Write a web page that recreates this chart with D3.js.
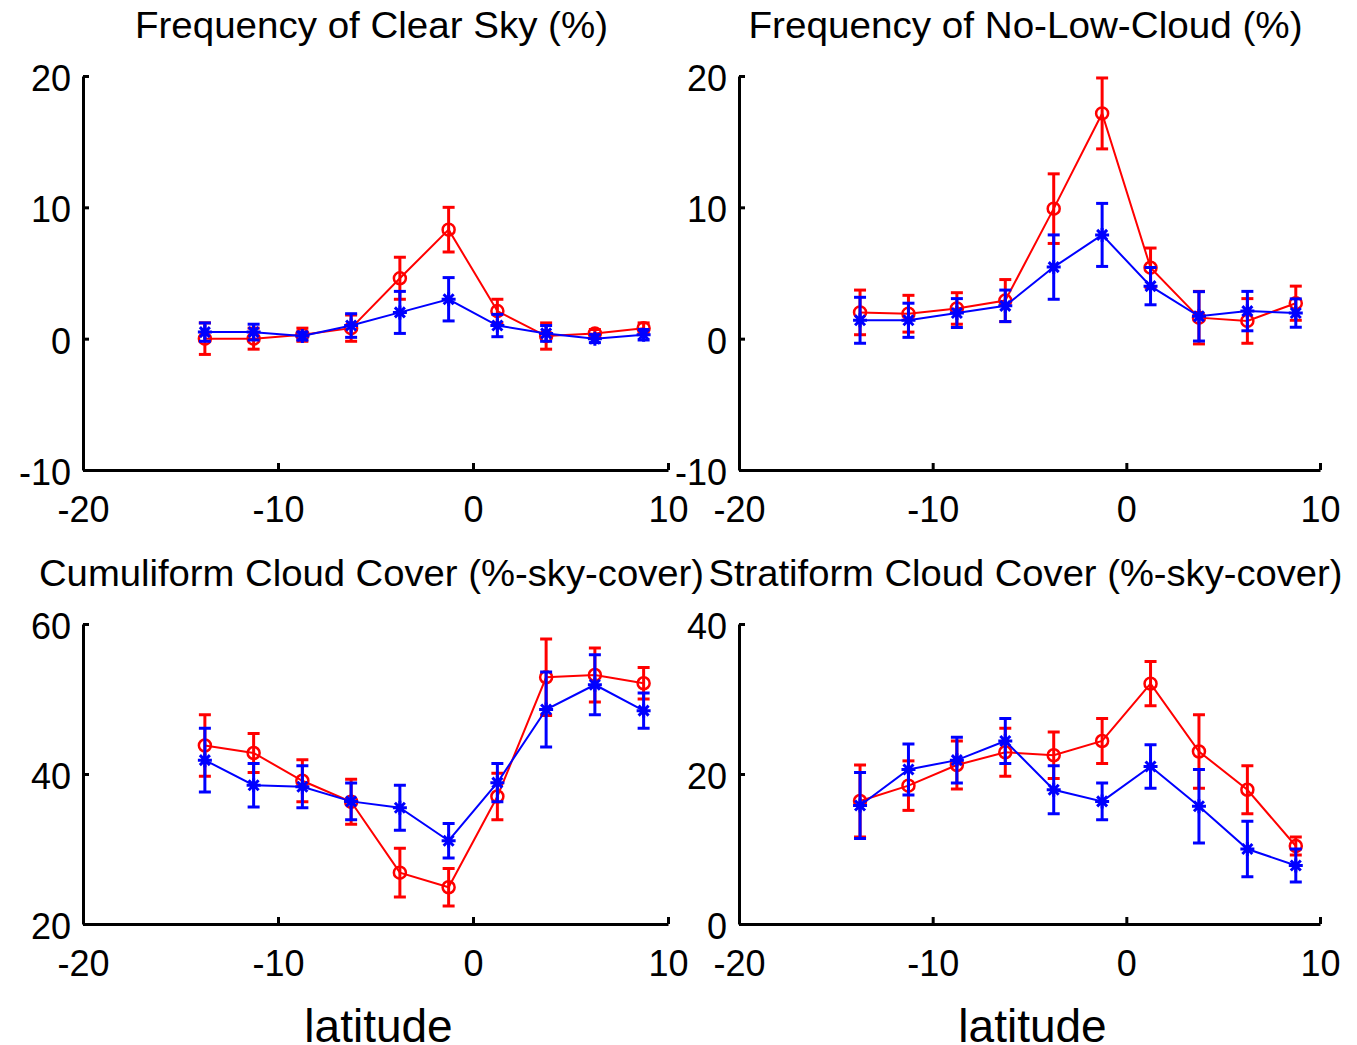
<!DOCTYPE html>
<html>
<head>
<meta charset="utf-8">
<title>Cloud statistics by latitude</title>
<script src="https://cdn.jsdelivr.net/npm/d3@7"></script>
<style>
    body { margin: 0; background: #fff; }
    svg { display: block; }
</style>
</head>
<body>
<div id="chart"></div>
<script>
// latitude bins shared by all four panels
const latitudes = [-13.75, -11.25, -8.75, -6.25, -3.75, -1.25, 1.25, 3.75, 6.25, 8.75];
const xTicks = [-20, -10, 0, 10];

// Frequency of clear sky (%)
const clearRed = [0.0, 0.0, 0.3, 0.8, 4.6, 8.3, 2.1, 0.2, 0.4, 0.8];
const clearRedErr = [1.2, 0.8, 0.5, 1.0, 1.6, 1.7, 0.9, 1.0, 0.3, 0.4];
const clearBlue = [0.5, 0.5, 0.2, 1.0, 2.0, 3.0, 1.0, 0.4, 0.0, 0.3];
const clearBlueErr = [0.7, 0.6, 0.3, 0.9, 1.6, 1.65, 0.85, 0.6, 0.3, 0.4];

// Frequency of no-low-cloud (%)
const noLowRed = [2.0, 1.9, 2.3, 2.9, 9.9, 17.15, 5.4, 1.6, 1.35, 2.7];
const noLowRedErr = [1.7, 1.4, 1.2, 1.6, 2.65, 2.7, 1.5, 2.0, 1.7, 1.3];
const noLowBlue = [1.4, 1.4, 1.95, 2.5, 5.45, 7.9, 4.0, 1.7, 2.1, 1.95];
const noLowBlueErr = [1.75, 1.3, 1.1, 1.2, 2.45, 2.4, 1.42, 1.88, 1.5, 1.08];

// Cumuliform cloud cover (%-sky-cover)
const cumRed = [43.8, 42.8, 39.1, 36.3, 26.85, 24.9, 37.0, 52.9, 53.2, 52.1];
const cumRedErr = [4.1, 2.6, 2.8, 3.0, 3.25, 2.5, 3.1, 5.1, 3.6, 2.1];
const cumBlue = [41.85, 38.5, 38.3, 36.35, 35.5, 31.1, 38.85, 48.6, 51.9, 48.45];
const cumBlueErr = [4.25, 2.9, 2.8, 2.45, 3.0, 2.3, 2.55, 5.0, 4.0, 2.35];

// Stratiform cloud cover (%-sky-cover)
const stratRed = [16.4, 18.45, 21.2, 22.9, 22.5, 24.4, 32.05, 23.0, 17.9, 10.4];
const stratRedErr = [4.8, 3.3, 3.2, 3.2, 3.1, 3.0, 2.95, 4.9, 3.2, 1.2];
const stratBlue = [15.8, 20.6, 21.85, 24.4, 17.9, 16.35, 21.0, 15.7, 10.0, 7.8];
const stratBlueErr = [4.4, 3.4, 3.05, 3.0, 3.2, 2.45, 2.9, 4.9, 3.7, 2.2];

const width = 1357;
const height = 1045;
const font = "'Liberation Sans', Arial, sans-serif";

const svg = d3.select("#chart")
    .append("svg")
    .attr("width", width)
    .attr("height", height)
    .style("background", "#fff");

// one panel = axes + two error-bar series
function drawPanel(p) {
    const x = d3.scaleLinear().domain([-20, 10]).range([p.left, p.right]);
    const y = d3.scaleLinear().domain(p.yDomain).range([p.bottom, p.top]);

    const g = svg.append("g");

    // x axis, ticks pointing inward
    const xAxis = g.append("g")
        .attr("transform", `translate(0,${p.bottom})`)
        .call(d3.axisBottom(x)
            .tickValues(xTicks)
            .tickFormat(d => String(d))
            .tickSizeInner(-7)
            .tickSizeOuter(0)
            .tickPadding(26));

    // y axis
    const yAxis = g.append("g")
        .attr("transform", `translate(${p.left},0)`)
        .call(d3.axisLeft(y)
            .tickValues(p.yTicks)
            .tickFormat(d => String(d))
            .tickSizeInner(-6)
            .tickSizeOuter(0)
            .tickPadding(12));

    [xAxis, yAxis].forEach(a => {
        a.select(".domain").attr("stroke", "#000").attr("stroke-width", 3);
        a.selectAll(".tick line").attr("stroke", "#000").attr("stroke-width", 3);
        a.selectAll(".tick text")
            .attr("fill", "#000")
            .style("font-family", font)
            .style("font-size", "36px");
    });
    yAxis.selectAll(".tick text").attr("dy", "0.4em");

    // title
    g.append("text")
        .attr("x", (p.left + p.right) / 2 - 4)
        .attr("y", p.top - 38)
        .attr("text-anchor", "middle")
        .attr("textLength", p.titleWidth)
        .attr("lengthAdjust", "spacingAndGlyphs")
        .style("font-family", font)
        .style("font-size", "36px")
        .text(p.title);

    if (p.xlabel) {
        g.append("text")
            .attr("x", (p.left + p.right) / 2 + 3)
            .attr("y", 1042)
            .attr("text-anchor", "middle")
            .style("font-family", font)
            .style("font-size", "46px")
            .text(p.xlabel);
    }

    p.series.forEach(s => {
        const pts = latitudes.map((lat, i) => ({ lat: lat, v: s.values[i], e: s.errors[i] }));
        const sg = g.append("g");

        sg.append("path")
            .datum(pts)
            .attr("fill", "none")
            .attr("stroke", s.color)
            .attr("stroke-width", 2)
            .attr("d", d3.line().x(d => x(d.lat)).y(d => y(d.v)));

        // error bars
        const bars = sg.selectAll("g.err")
            .data(pts)
            .enter()
            .append("g")
            .attr("class", "err")
            .attr("stroke", s.color)
            .attr("stroke-width", 3);

        bars.append("line")
            .attr("x1", d => x(d.lat)).attr("x2", d => x(d.lat))
            .attr("y1", d => y(d.v - d.e)).attr("y2", d => y(d.v + d.e));
        bars.append("line")
            .attr("x1", d => x(d.lat) - 6).attr("x2", d => x(d.lat) + 6)
            .attr("y1", d => y(d.v + d.e)).attr("y2", d => y(d.v + d.e));
        bars.append("line")
            .attr("x1", d => x(d.lat) - 6).attr("x2", d => x(d.lat) + 6)
            .attr("y1", d => y(d.v - d.e)).attr("y2", d => y(d.v - d.e));

        // markers
        if (s.marker === "o") {
            sg.selectAll("circle")
                .data(pts)
                .enter()
                .append("circle")
                .attr("cx", d => x(d.lat))
                .attr("cy", d => y(d.v))
                .attr("r", 6)
                .attr("fill", "none")
                .attr("stroke", s.color)
                .attr("stroke-width", 2.5);
        } else {
            const star = sg.selectAll("path.star")
                .data(pts)
                .enter()
                .append("path")
                .attr("class", "star")
                .attr("fill", "none")
                .attr("stroke", s.color)
                .attr("stroke-width", 3)
                .attr("d", d => {
                    const cx = x(d.lat), cy = y(d.v);
                    return `M${cx - 7},${cy}H${cx + 7}M${cx},${cy - 7}V${cy + 7}` +
                        `M${cx - 5},${cy - 5}L${cx + 5},${cy + 5}M${cx - 5},${cy + 5}L${cx + 5},${cy - 5}`;
                });
        }
    });
}

drawPanel({
    left: 83, right: 668, top: 76, bottom: 470,
    yDomain: [-10, 20], yTicks: [-10, 0, 10, 20],
    title: "Frequency of Clear Sky (%)", titleWidth: 473,
    series: [
        { values: clearRed, errors: clearRedErr, color: "#ff0000", marker: "o" },
        { values: clearBlue, errors: clearBlueErr, color: "#0000ff", marker: "*" }
    ]
});

drawPanel({
    left: 739, right: 1320, top: 76, bottom: 470,
    yDomain: [-10, 20], yTicks: [-10, 0, 10, 20],
    title: "Frequency of No-Low-Cloud (%)", titleWidth: 554,
    series: [
        { values: noLowRed, errors: noLowRedErr, color: "#ff0000", marker: "o" },
        { values: noLowBlue, errors: noLowBlueErr, color: "#0000ff", marker: "*" }
    ]
});

drawPanel({
    left: 83, right: 668, top: 624, bottom: 924,
    yDomain: [20, 60], yTicks: [20, 40, 60],
    title: "Cumuliform Cloud Cover (%-sky-cover)", titleWidth: 665,
    xlabel: "latitude",
    series: [
        { values: cumRed, errors: cumRedErr, color: "#ff0000", marker: "o" },
        { values: cumBlue, errors: cumBlueErr, color: "#0000ff", marker: "*" }
    ]
});

drawPanel({
    left: 739, right: 1320, top: 624, bottom: 924,
    yDomain: [0, 40], yTicks: [0, 20, 40],
    title: "Stratiform Cloud Cover (%-sky-cover)", titleWidth: 634,
    xlabel: "latitude",
    series: [
        { values: stratRed, errors: stratRedErr, color: "#ff0000", marker: "o" },
        { values: stratBlue, errors: stratBlueErr, color: "#0000ff", marker: "*" }
    ]
});
</script>
</body>
</html>
